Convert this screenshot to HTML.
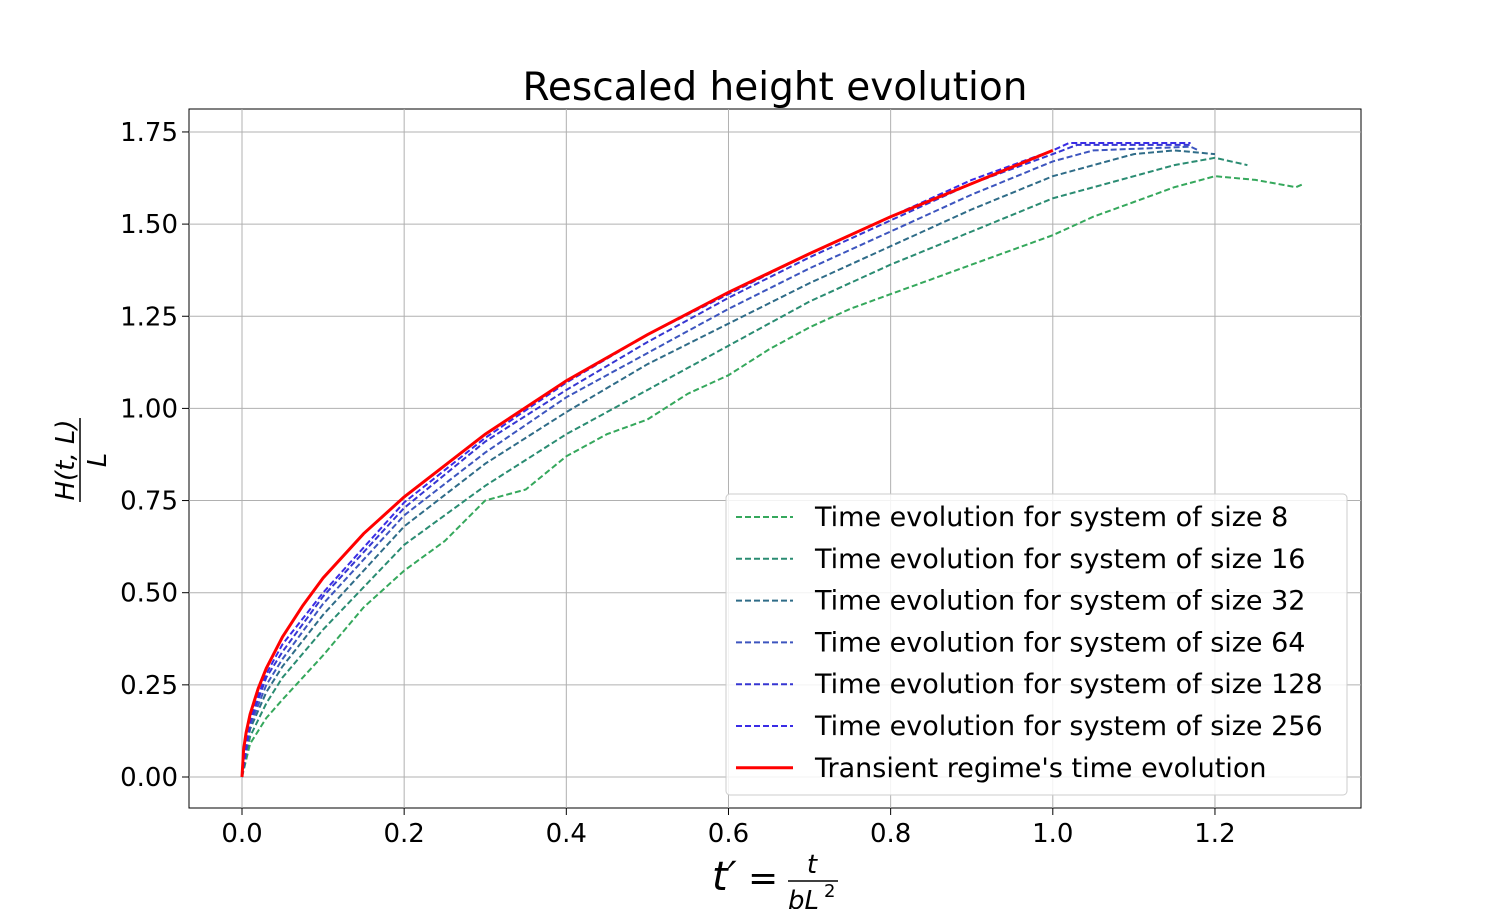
<!DOCTYPE html>
<html><head><meta charset="utf-8"><style>
body{margin:0;background:#fff;}
svg{display:block;font-family:"DejaVu Sans","Liberation Sans",sans-serif;}
</style></head><body>
<svg id="chart" width="1512" height="909">
<text x="775" y="100" font-size="39" text-anchor="middle">Rescaled height evolution</text>
<rect x="189" y="109" width="1172" height="699" fill="none" stroke="#000" stroke-width="1"/>
<g id="grid"></g><g id="ticks"></g><g id="series"></g>
<g>
<text x="712" y="890" font-size="40" font-style="italic">t′</text>
<text x="748" y="890" font-size="36">=</text>
<text x="812" y="873" font-size="26" font-style="italic" text-anchor="middle">t</text>
<line x1="788" y1="881" x2="838" y2="881" stroke="#000" stroke-width="1.5"/>
<text x="788" y="909" font-size="26" font-style="italic">bL</text><text x="824" y="897" font-size="18">2</text>
</g>
<g transform="translate(80,460) rotate(-90)">
<text x="0" y="-6" font-size="26" font-style="italic" text-anchor="middle">H(t, L)</text>
<line x1="-42" y1="0" x2="42" y2="0" stroke="#000" stroke-width="1.5"/>
<text x="0" y="26" font-size="26" font-style="italic" text-anchor="middle">L</text>
</g>
<g id="legend"></g>
</svg>
<script>
const xTicks=[0,0.2,0.4,0.6,0.8,1.0,1.2];
const yTicks=[0,0.25,0.5,0.75,1.0,1.25,1.5,1.75];
const tS8=[0,0.01,0.03,0.05,0.1,0.15,0.2,0.25,0.3,0.35,0.4,0.45,0.5,0.55,0.6,0.65,0.7,0.75,0.8,0.85,0.9,0.95,1.0,1.05,1.1,1.15,1.2,1.25,1.3,1.31];
const h8=[0,0.09,0.16,0.21,0.33,0.46,0.56,0.64,0.75,0.78,0.87,0.93,0.97,1.04,1.09,1.16,1.22,1.27,1.31,1.35,1.39,1.43,1.47,1.52,1.56,1.60,1.63,1.62,1.60,1.61];
const tS16=[0,0.01,0.03,0.05,0.1,0.2,0.3,0.4,0.5,0.6,0.7,0.8,0.9,1.0,1.1,1.15,1.2,1.24];
const h16=[0,0.11,0.2,0.27,0.40,0.63,0.79,0.93,1.05,1.17,1.29,1.39,1.48,1.57,1.63,1.66,1.68,1.66];
const tS32=[0,0.01,0.03,0.05,0.1,0.2,0.3,0.4,0.5,0.6,0.7,0.8,0.9,1.0,1.1,1.15,1.2];
const h32=[0,0.13,0.23,0.3,0.44,0.68,0.85,0.99,1.12,1.23,1.34,1.44,1.54,1.63,1.69,1.70,1.69];
const tS64=[0,0.01,0.03,0.05,0.1,0.2,0.3,0.4,0.5,0.6,0.7,0.8,0.9,1.0,1.05,1.17,1.18];
const h64=[0,0.14,0.25,0.32,0.47,0.71,0.88,1.03,1.15,1.27,1.38,1.48,1.58,1.67,1.70,1.71,1.70];
const tS128=[0,0.01,0.03,0.05,0.1,0.2,0.3,0.4,0.5,0.6,0.7,0.8,0.9,1.0,1.03,1.17];
const h128=[0,0.15,0.27,0.34,0.49,0.73,0.91,1.05,1.18,1.30,1.41,1.51,1.61,1.69,1.715,1.715];
const tS256=[0,0.01,0.03,0.05,0.1,0.2,0.3,0.4,0.5,0.6,0.7,0.8,0.9,1.0,1.02,1.17];
const h256=[0,0.16,0.28,0.36,0.5,0.745,0.92,1.07,1.20,1.31,1.42,1.52,1.62,1.70,1.72,1.72];
const tRed=[0,0.002,0.005,0.01,0.02,0.03,0.05,0.075,0.1,0.15,0.2,0.3,0.4,0.5,0.6,0.7,0.8,0.9,1.0];
const hRed=[0,0.075,0.12,0.17,0.24,0.295,0.38,0.465,0.54,0.66,0.76,0.93,1.075,1.20,1.315,1.42,1.52,1.61,1.70];
const labels=["Time evolution for system of size 8","Time evolution for system of size 16","Time evolution for system of size 32","Time evolution for system of size 64","Time evolution for system of size 128","Time evolution for system of size 256","Transient regime's time evolution"];
const colors=["#35a85c","#2a8c72","#2f6c88","#3d55bf","#3636d2","#3a2ce6","#ff0000"];
const NS="http://www.w3.org/2000/svg";
const X=v=>242+v*810.8, Y=v=>777-v*368.6;
function mk(tag,attrs,parent){const e=document.createElementNS(NS,tag);for(const k in attrs)e.setAttribute(k,attrs[k]);parent.appendChild(e);return e;}
const grid=document.getElementById('grid'),ticks=document.getElementById('ticks');
xTicks.forEach(v=>{
 const g=mk('line',{x1:X(v),x2:X(v),y1:109,y2:808,stroke:'#b0b0b0','stroke-width':1},grid);
 
 
 mk('line',{x1:X(v),x2:X(v),y1:808,y2:815,stroke:'#000'},ticks);
 const t=mk('text',{x:X(v),y:842,'font-size':26,'text-anchor':'middle'},ticks);t.textContent=v.toFixed(1);
 
 
});
yTicks.forEach(v=>{
 const g=mk('line',{x1:189,x2:1361,y1:Y(v),y2:Y(v),stroke:'#b0b0b0','stroke-width':1},grid);
 
 
 mk('line',{x1:182,x2:189,y1:Y(v),y2:Y(v),stroke:'#000'},ticks);
 const t=mk('text',{x:178,y:Y(v)+9,'font-size':26,'text-anchor':'end'},ticks);t.textContent=v.toFixed(2);
 
 
});
const data=[[tS8,h8],[tS16,h16],[tS32,h32],[tS64,h64],[tS128,h128],[tS256,h256],[tRed,hRed]];
const sg=document.getElementById('series');
data.forEach((d,i)=>{
 const pts=d[0].map((t,j)=>X(t).toFixed(1)+','+Y(d[1][j]).toFixed(1)).join(' ');
 const red=i===6;
 const p=mk('polyline',{points:pts,fill:'none',stroke:colors[i],'stroke-width':red?3:2,'stroke-dasharray':red?'none':'6,3'},sg);
 
 
});
const lg=document.getElementById('legend');
mk('rect',{x:726,y:494,width:621,height:301,rx:4,fill:'#fff','fill-opacity':0.85,stroke:'#ccc'},lg);
labels.forEach((l,i)=>{
 const y=517+i*41.8;
 const red=i===6;
 mk('line',{x1:736,x2:793,y1:y,y2:y,stroke:colors[i],'stroke-width':red?3:2,'stroke-dasharray':red?'none':'6,3'},lg);
 const t=mk('text',{x:815,y:y+9,'font-size':27},lg);t.textContent=l;
 
 
});
</script>
</body></html>
